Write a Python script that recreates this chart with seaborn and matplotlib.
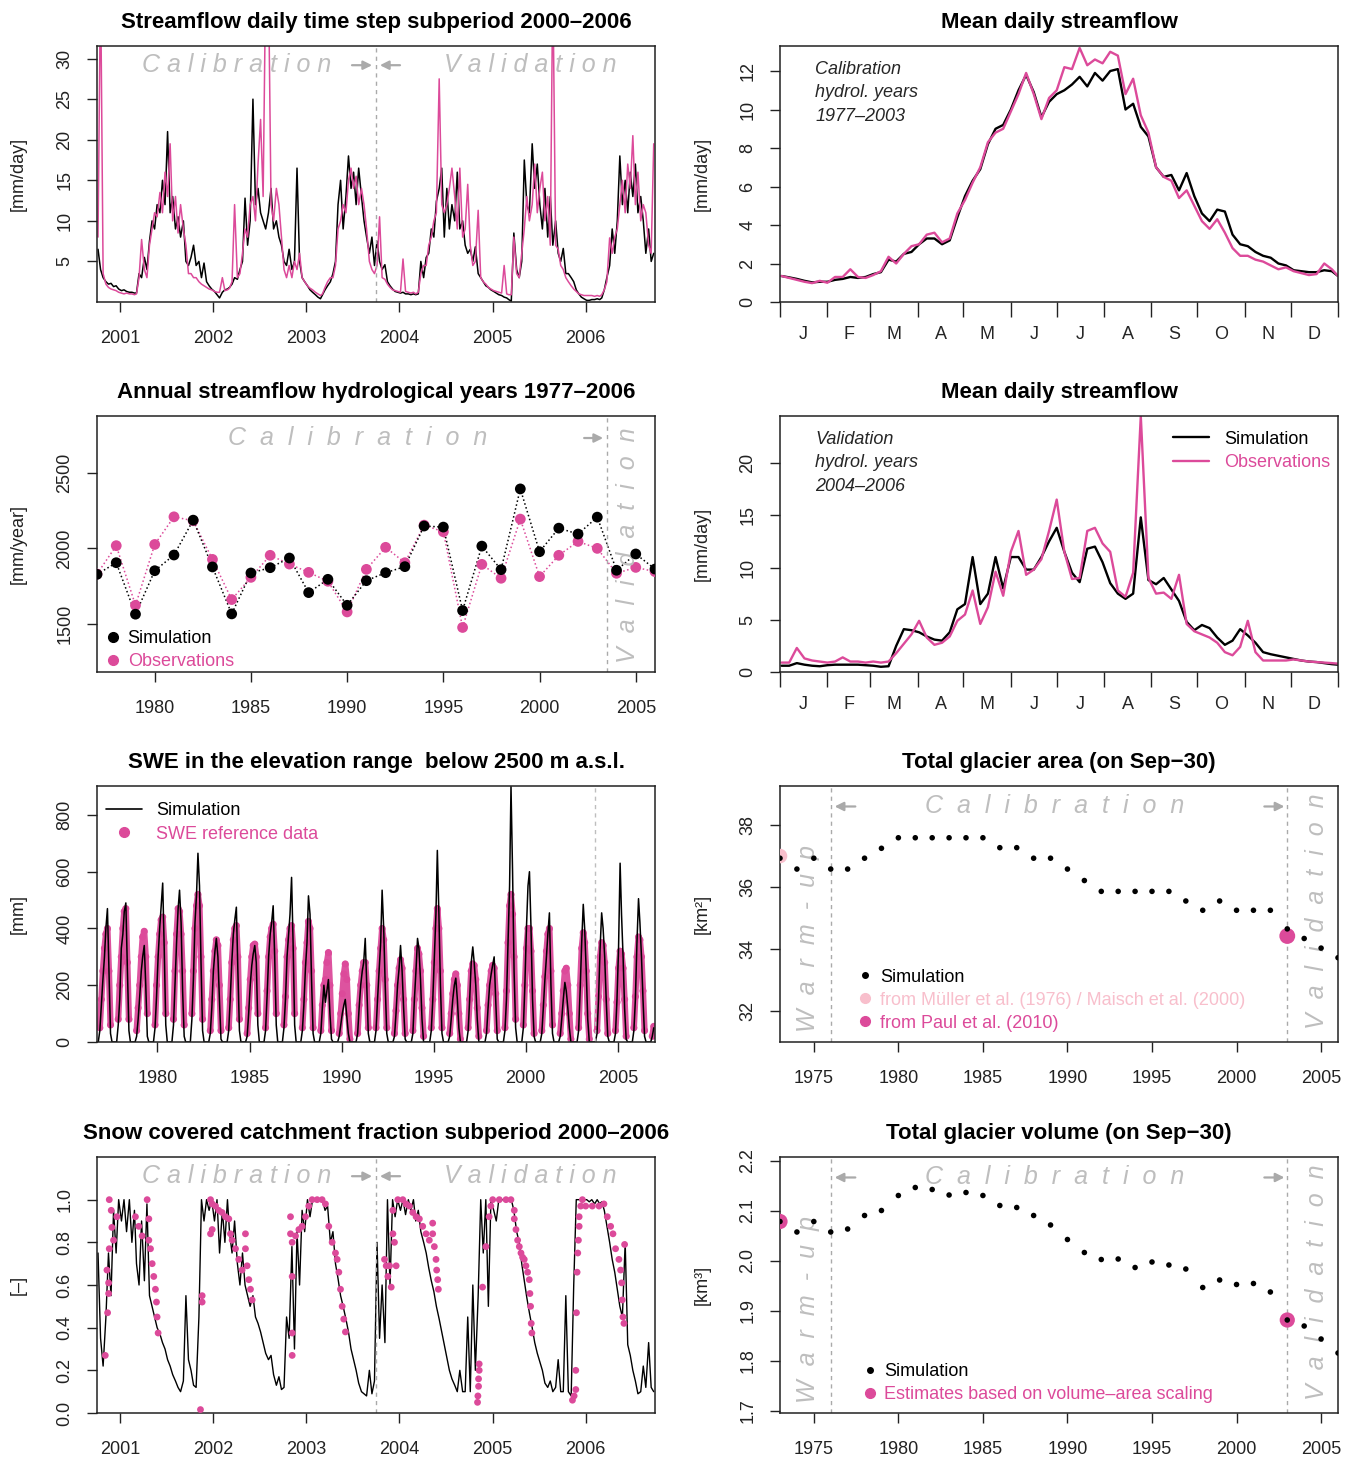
import numpy as np
import pandas as pd
import matplotlib
matplotlib.use("Agg")
import matplotlib.pyplot as plt
import seaborn as sns
from matplotlib.lines import Line2D

sns.set_style("ticks")
plt.rcParams['font.family'] = ['Liberation Sans', 'DejaVu Sans']
plt.rcParams['axes.titleweight'] = 'bold'

PINK = '#DC4A9A'
LPINK = '#F8BFCC'
GRAY = '#BEBEBE'
DGRAY = '#AAAAAA'
INK = '#222222'

# ---------------- Panel A: dekadal streamflow, hydrological years 2001-2006 [mm/day]
q_sim_hy2001 = [6.5,4,3,2.5,2.2,2.3,1.9,2.0,1.6,1.4,1.5,1.3,1.2,1.2,1.1,1.1,3.5,3,5.5,4,7.5,10,9,12,11,15,12,21,11,13,9,10.5,8,10,5,4.5]
q_obs_hy2001 = [8,40,3.5,2.2,1.8,1.6,1.5,1.4,1.2,1.1,1.0,1.1,1.0,1.0,0.9,1.0,3,7.7,4,3,7,9,11,10.5,13.5,11,16,13,19.5,10,13,8.5,12,9,7,3.5]
q_sim_hy2002 = [5.5,7,4.5,5,3,4.8,2.5,2,1.6,1.3,0.9,0.5,1.2,1.5,1.6,1.8,2.2,3,2.8,4,5,12.8,7,10,25,12,14,11,10,9,11,14,9,10,8,7]
q_obs_hy2002 = [3.5,3,3,2.5,2.2,2,1.8,1.6,1.5,1.3,1.2,1.2,3,1.4,1.5,1.7,2.5,12,3,3.5,6,9,8,12,13,10,17,22.5,13,40,40,12,10,14,12,8]
q_sim_hy2003 = [5,4.5,6.5,4,5,16.5,5,3,2.5,2,1.5,1.2,0.9,0.6,0.4,0.9,1.5,2,2.5,3.5,5,12,15,9,13,18,14,16,12,16.5,13,10,8,6,8,4.5]
q_obs_hy2003 = [4,3,4.5,3,5,4,6,3,2.5,2,1.7,1.5,1.2,1.0,0.8,1.0,1.8,2.5,3,3,4.5,9,10,12,11,15,16.5,14,15.5,12,14,12,9,5,4,3.5]
q_sim_hy2004 = [7.5,5,4,4.6,2.5,2,1.6,1.3,1.2,1.1,1.2,1.0,1.0,0.9,1.0,0.9,1.0,5,3,5.5,6,9,8,12.4,14,16.5,8,14,9,12,10,16,9,10,7,6]
q_obs_hy2004 = [4.5,10.5,3,2.8,2.2,1.8,1.5,1.4,1.3,1.2,5.3,1.3,1.2,1.1,1.2,1.0,1.2,3.5,4.5,4.5,7,8,10,11,27.5,12,11,12,14,16.5,13,9,16.5,8,9,14.5]
q_sim_hy2005 = [6.5,5,6.8,3.5,3,2.5,2,1.8,1.5,1.3,1.1,0.9,0.8,0.6,0.5,0.3,0.1,8.5,4,3,5,17.5,12,11,19.5,14,17,12,9,14,8,13,7,10,6,5]
q_obs_hy2005 = [7,4.5,5,11.3,3,2.5,2.2,1.8,1.6,1.4,1.3,1.2,1.1,4.5,1.0,0.9,0.9,8,3.5,3,6,9,13,10,12,17,11,14,16,10,13,7,40,7,6.5,4.5]
q_sim_hy2006 = [6.6,3.5,3.5,3,2.5,1.5,1.0,0.6,0.4,0.2,0.2,0.3,0.3,0.4,0.3,0.5,1.5,3,4.5,9,6,10,18,12,15,11,16,13,17,11,13,10,6,9,5,6]
q_obs_hy2006 = [4,3,2.5,2,1.6,1.3,1.0,0.9,0.8,0.8,0.8,0.8,0.7,0.8,0.7,0.9,1.5,2.5,7.9,6,8,9,12,15,11,17,14,20.5,12,16,10,12,11,7,6,19.5]

# ---------------- Panel B / D: mean daily streamflow [mm/day]
doy = list(range(1, 362, 5)) + [365]
cal_sim = [1.35,1.28,1.2,1.1,1.02,1.05,1.05,1.15,1.2,1.3,1.25,1.3,1.45,1.55,2.2,2.1,2.5,2.6,3.0,3.3,3.3,3.0,3.2,4.4,5.5,6.3,6.9,8.2,9.0,9.2,10.0,11.0,11.8,10.9,9.6,10.4,10.8,11.0,11.3,11.7,11.2,11.9,11.5,12.0,12.1,10.0,10.3,9.1,8.6,7.0,6.5,6.6,5.8,6.7,5.5,4.6,4.2,4.8,4.7,3.5,3.0,2.9,2.6,2.4,2.3,2.0,1.9,1.65,1.6,1.55,1.55,1.65,1.6,1.35]
cal_obs = [1.35,1.25,1.15,1.05,0.98,1.1,1.0,1.3,1.3,1.7,1.3,1.25,1.4,1.6,2.35,2.0,2.5,2.9,3.0,3.5,3.6,3.1,3.3,4.6,5.3,6.2,7.0,8.3,8.8,9.0,9.9,10.8,11.9,10.8,9.5,10.6,11.0,12.2,12.1,13.2,12.3,12.6,12.4,13.0,12.8,10.8,11.6,9.7,8.8,7.0,6.5,6.3,5.4,5.8,5.0,4.2,3.8,4.3,3.6,2.8,2.4,2.4,2.2,2.1,1.9,1.7,1.8,1.6,1.5,1.4,1.45,2.0,1.7,1.35]
val_sim = [0.6,0.6,0.85,0.7,0.6,0.55,0.65,0.7,0.7,0.7,0.7,0.65,0.6,0.5,0.55,2.5,4.1,4.0,3.8,3.4,3.1,3.0,3.8,6.0,6.5,11.0,6.5,7.5,11.0,8.0,11.0,11.0,9.8,9.8,11.0,12.5,13.8,11.5,9.5,8.6,11.8,12.0,10.5,8.5,7.5,7.0,7.5,14.8,8.8,8.4,9.0,7.9,6.8,4.8,4.0,4.5,4.2,3.3,2.6,3.0,4.1,3.5,2.8,1.9,1.7,1.55,1.4,1.25,1.1,1.0,0.95,0.85,0.75,0.7]
val_obs = [0.9,0.9,2.3,1.3,1.1,1.0,0.9,1.0,1.4,1.0,1.0,0.9,1.0,0.9,1.0,1.8,2.7,3.6,4.9,3.3,2.6,2.8,3.4,4.9,5.5,7.8,4.6,6.2,9.6,7.3,11.5,13.5,9.3,9.8,10.8,13.5,16.5,11.5,8.9,9.0,13.5,13.8,12.3,11.5,7.8,7.2,9.5,24.5,9.0,7.5,7.6,7.0,9.3,4.6,3.9,3.6,3.3,2.8,1.9,1.6,2.4,4.9,1.9,1.1,1.1,1.1,1.1,1.2,1.1,1.0,0.95,0.9,0.85,0.8]
month_letters = ['J', 'F', 'M', 'A', 'M', 'J', 'J', 'A', 'S', 'O', 'N', 'D']
month_days = [31, 28, 31, 30, 31, 30, 31, 31, 30, 31, 30, 31]

# ---------------- Panel C: annual streamflow [mm/year]
ann_years = list(range(1977, 2007))
ann_sim = [1828,1905,1564,1852,1956,2187,1877,1566,1837,1872,1936,1707,1795,1623,1786,1839,1879,2148,2141,1588,2015,1859,2394,1978,2134,2095,2207,1855,1963,1863]
ann_obs = [1830,2018,1623,2026,2209,2183,1927,1661,1808,1954,1896,1841,1782,1579,1861,2007,1905,2154,2110,1476,1894,1802,2194,1813,1954,2046,2000,1835,1874,1846]

# ---------------- Panel E: SWE below 2500 m, monthly (Oct..Sep per hydrological year) [mm]
swe_sim = {
 1977:[0,40,130,220,300,400,470,250,30,0,0,0], 1978:[0,60,150,330,380,460,490,260,40,0,0,0],
 1979:[0,20,80,160,250,300,340,200,20,0,0,0], 1980:[0,50,160,300,400,480,560,330,60,0,0,0],
 1981:[0,60,200,350,470,535,420,180,20,0,0,0], 1982:[0,80,220,420,520,665,550,280,40,0,0,0],
 1983:[0,30,120,250,320,365,300,150,10,0,0,0], 1984:[0,40,150,280,380,430,475,250,40,0,0,0],
 1985:[0,20,100,200,270,310,340,280,60,0,0,0], 1986:[0,40,160,300,380,420,480,300,60,0,0,0],
 1987:[0,50,150,300,380,450,580,350,60,0,0,0], 1988:[0,40,130,260,350,515,450,220,30,0,0,0],
 1989:[0,30,120,200,140,180,220,100,10,0,0,0], 1990:[0,20,60,100,130,150,90,30,0,0,0,0],
 1991:[0,30,120,200,250,280,365,200,30,0,0,0], 1992:[0,40,150,250,350,535,400,200,30,0,0,0],
 1993:[0,20,100,200,260,340,250,120,10,0,0,0], 1994:[0,30,150,250,365,330,220,80,0,0,0,0],
 1995:[0,40,150,300,450,675,450,200,30,0,0,0], 1996:[0,20,80,150,200,225,150,50,0,0,0,0],
 1997:[0,40,150,280,335,280,200,80,0,0,0,0], 1998:[0,30,120,200,240,270,300,150,10,0,0,0],
 1999:[0,40,150,350,550,900,600,250,50,0,0,0], 2000:[0,50,200,400,550,600,400,150,20,0,0,0],
 2001:[0,30,120,220,300,380,455,200,30,0,0,0], 2002:[0,20,80,150,210,180,120,50,0,0,0,0],
 2003:[0,40,180,350,485,400,250,80,0,0,0,0], 2004:[0,30,150,330,455,400,300,150,20,0,0,0],
 2005:[0,30,150,330,630,450,300,120,10,0,0,0], 2006:[0,40,150,350,505,420,300,150,20,0,0,0],
 2007:[0,20,50],
}
swe_ref = {
 1977:[0,50,150,250,330,380,400,250,60,0,0,0], 1978:[0,80,200,300,400,460,470,280,80,0,0,0],
 1979:[0,40,120,200,300,370,390,300,100,0,0,0], 1980:[0,60,200,300,380,430,440,350,100,0,0,0],
 1981:[0,80,250,380,470,460,380,250,60,0,0,0], 1982:[0,100,250,400,480,520,480,300,80,0,0,0],
 1983:[0,40,150,250,320,360,340,200,40,0,0,0], 1984:[0,50,150,280,360,400,410,300,80,0,0,0],
 1985:[0,30,120,220,300,340,345,300,100,0,0,0], 1986:[0,50,180,300,370,400,415,320,100,0,0,0],
 1987:[0,60,160,300,360,400,410,330,100,0,0,0], 1988:[0,50,150,280,350,425,400,250,50,0,0,0],
 1989:[0,40,130,200,220,280,315,200,40,0,0,0], 1990:[0,30,100,170,240,275,220,100,10,0,0,0],
 1991:[0,30,130,200,250,280,280,200,50,0,0,0], 1992:[0,50,150,250,330,400,360,220,50,0,0,0],
 1993:[0,30,110,200,260,290,260,150,30,0,0,0], 1994:[0,40,150,250,330,310,250,120,20,0,0,0],
 1995:[0,50,150,280,400,470,400,250,50,0,0,0], 1996:[0,30,100,170,220,240,200,100,10,0,0,0],
 1997:[0,50,150,250,275,270,220,120,20,0,0,0], 1998:[0,40,130,200,250,270,260,170,40,0,0,0],
 1999:[0,50,180,350,480,520,450,300,80,0,0,0], 2000:[0,60,200,330,400,400,320,180,30,0,0,0],
 2001:[0,40,130,230,320,380,400,250,60,0,0,0], 2002:[0,30,100,180,250,260,200,100,10,0,0,0],
 2003:[0,50,200,330,385,350,250,100,10,0,0,0], 2004:[0,40,160,300,350,340,280,150,30,0,0,0],
 2005:[0,40,140,260,320,310,260,150,20,0,0,0], 2006:[0,50,160,300,370,360,300,180,40,0,0,0],
 2007:[0,20,55],
}

# ---------------- Panel F: glacier area [km2]
gl_years = list(range(1973, 2007))
area_sim = [36.93,36.58,36.93,36.58,36.58,36.93,37.25,37.59,37.59,37.59,37.59,37.59,37.59,37.27,37.27,36.93,36.93,36.58,36.21,35.86,35.86,35.86,35.86,35.86,35.55,35.25,35.55,35.25,35.25,35.25,34.65,34.34,34.03,33.72]
area_muller = (1973, 37.0)
area_paul = (2003, 34.42)

# ---------------- Panel H: glacier volume [km3]
vol_sim = [2.078,2.057,2.078,2.057,2.063,2.090,2.100,2.130,2.146,2.142,2.131,2.136,2.130,2.110,2.106,2.090,2.071,2.042,2.016,2.002,2.003,1.986,1.997,1.991,1.983,1.946,1.961,1.952,1.954,1.937,1.881,1.869,1.843,1.815]
vol_est_years = [1973, 2003]
vol_est = [2.078, 1.881]

# ---------------- Panel G: snow covered fraction, dekadal simulation + observed points [-]
sc_sim_hy2001 = [0.75,0.35,0.22,0.45,0.75,0.55,0.95,0.75,1.0,0.9,1.0,0.85,1.0,0.8,0.95,0.7,0.6,0.9,0.62,0.98,0.55,0.5,0.45,0.4,0.37,0.33,0.3,0.25,0.22,0.18,0.15,0.12,0.1,0.15,0.55,0.25]
sc_sim_hy2002 = [0.2,0.13,0.12,0.45,1.0,0.9,1.0,0.95,1.0,0.9,1.0,0.75,0.95,0.8,1.0,0.85,0.75,0.9,0.7,0.6,0.75,0.6,0.55,0.5,0.55,0.45,0.42,0.38,0.33,0.28,0.25,0.27,0.18,0.13,0.17,0.11]
sc_sim_hy2003 = [0.12,0.45,0.35,0.78,0.3,0.85,0.6,0.95,0.85,1.0,0.92,1.0,1.0,1.0,1.0,1.0,0.95,0.97,0.8,0.85,0.7,0.63,0.55,0.5,0.44,0.38,0.3,0.25,0.2,0.14,0.1,0.09,0.08,0.2,0.09,0.15]
sc_sim_hy2004 = [0.8,0.35,0.6,0.33,1.0,0.6,1.0,0.92,1.0,0.95,1.0,0.93,1.0,0.95,1.0,0.9,0.95,0.85,0.8,0.75,0.68,0.62,0.57,0.5,0.44,0.38,0.32,0.26,0.2,0.16,0.13,0.1,0.2,0.1,0.1,0.45]
sc_sim_hy2005 = [0.1,0.6,0.2,0.55,1.0,0.75,1.0,0.5,1.0,0.95,0.9,1.0,1.0,1.0,1.0,1.0,1.0,0.95,0.85,0.8,0.7,0.62,0.54,0.47,0.4,0.33,0.28,0.24,0.2,0.14,0.12,0.15,0.1,0.12,0.25,0.1]
sc_sim_hy2006 = [0.1,0.55,0.1,0.08,0.6,1.0,1.0,1.0,1.0,1.0,0.99,1.0,0.98,1.0,0.98,0.99,0.95,0.88,0.8,0.72,0.66,0.58,0.5,0.45,0.8,0.32,0.27,0.2,0.15,0.09,0.1,0.22,0.12,0.33,0.12,0.1]
sc_obs_time = [2000.839,2000.864,2000.875,2000.875,2000.857,2000.882,2000.882,2000.903,2000.910,2000.928,2000.964,
  2001.161,2001.197,2001.233,2001.287,2001.305,2001.305,2001.323,2001.341,2001.358,2001.376,2001.387,2001.394,2001.405,
  2001.860,2001.878,2001.878,2001.968,2001.986,2001.986,2001.968,2002.022,2002.057,2002.093,2002.129,2002.165,2002.183,
  2002.201,2002.237,2002.272,2002.308,2002.344,2002.344,2002.362,2002.380,2002.398,2002.416,
  2002.828,2002.828,2002.846,2002.846,2002.846,2002.846,2002.882,2002.918,2002.953,2002.989,2003.025,2003.061,2003.115,
  2003.168,2003.204,2003.240,2003.276,2003.312,2003.330,2003.348,2003.366,2003.384,2003.401,2003.419,
  2003.839,2003.857,2003.875,2003.893,2003.911,2003.929,2003.946,2003.964,2003.929,2003.982,2004.036,2004.071,2004.107,
  2004.143,2004.179,2004.214,2004.250,2004.286,2004.321,2004.357,2004.357,2004.375,2004.393,2004.400,2004.411,2004.418,
  2004.857,2004.857,2004.850,2004.850,2004.843,2004.839,2004.893,2004.929,2004.964,2004.982,2005.000,2005.071,2005.143,
  2005.196,2005.232,2005.232,2005.250,2005.268,2005.286,2005.304,2005.321,2005.339,2005.357,2005.375,2005.393,2005.400,
  2005.407,2005.414,2005.421,
  2005.857,2005.875,2005.893,2005.893,2005.900,2005.907,2005.914,2005.921,2005.929,2005.929,2005.946,2005.964,2006.000,
  2006.071,2006.143,2006.196,2006.232,2006.268,2006.293,2006.321,2006.357,2006.375,2006.386,2006.393,2006.400,2006.411,2006.418]
sc_obs_val = [0.27,0.47,0.56,0.61,0.67,0.77,1.0,0.95,0.87,0.81,0.92,
  0.92,0.875,0.83,1.0,0.91,0.81,0.77,0.70,0.64,0.58,0.52,0.45,0.375,
  0.016,0.55,0.52,1.0,0.98,0.86,0.84,0.97,0.95,0.94,0.92,0.91,0.84,
  0.81,0.77,0.72,0.67,0.84,0.77,0.69,0.625,0.58,0.53,
  0.92,0.84,0.80,0.64,0.375,0.27,0.83,0.86,0.875,0.92,0.97,1.0,1.0,
  1.0,0.98,0.875,0.80,0.75,0.72,0.66,0.58,0.50,0.44,0.38,
  0.72,0.69,0.64,0.69,0.59,0.84,0.80,0.69,0.95,1.0,1.0,0.98,0.97,
  0.94,0.92,0.91,0.875,0.84,0.81,0.89,0.84,0.78,0.72,0.67,0.625,0.58,
  0.23,0.20,0.16,0.125,0.08,0.05,0.59,0.78,0.92,0.97,1.0,1.0,1.0,
  1.0,0.95,0.91,0.86,0.81,0.78,0.75,0.73,0.72,0.69,0.66,0.625,0.56,
  0.50,0.42,0.375,
  0.06,0.08,0.11,0.20,0.47,0.66,0.75,0.81,0.875,0.92,0.97,1.0,0.97,
  0.97,0.97,0.98,0.92,0.875,0.84,0.77,0.72,0.67,0.61,0.53,0.45,0.42,0.79]

# ====================================================================== helpers
def dekad_dates(first_hy, n_years):
    months = pd.date_range(f'{first_hy - 1}-10-01', periods=12 * n_years, freq='MS')
    return [m + pd.Timedelta(days=d) for m in months for d in (4, 14, 24)]

def dec_to_ts(y):
    yi = int(np.floor(y))
    return pd.Timestamp(yi, 1, 1) + pd.Timedelta(days=(y - yi) * 365.25)

W, H = 1354, 1458
fig = plt.figure(figsize=(W / 100, H / 100), dpi=100)

def add_ax(left, top, w=558, h=256):
    return fig.add_axes([left / W, 1 - (top + h) / H, w / W, h / H])

def rstyle(ax, title, ylabel):
    for s in ax.spines.values():
        s.set_visible(True)
        s.set_linewidth(1.1)
        s.set_color(INK)
    ax.tick_params(axis='both', direction='out', length=7, width=1.0, color=INK,
                   labelsize=13, labelcolor=INK)
    ax.tick_params(axis='x', pad=13)
    ax.tick_params(axis='y', pad=10)
    ax.set_title(title, fontsize=16, fontweight='bold', pad=13, color='black')
    ax.set_ylabel(ylabel, fontsize=13, color=INK)
    ax.yaxis.set_label_coords(-0.125, 0.5)
    ax.set_xlabel('')

def yrot(ax):
    plt.setp(ax.get_yticklabels(), rotation=90, va='center')

def gtext(ax, x, y, s, rot=0, size=18):
    ax.text(x, y, s, transform=ax.transAxes, ha='center', va='center', fontsize=size,
            style='italic', color=GRAY, rotation=rot)

def garrow(ax, x0, x1, y):
    ax.annotate('', xy=(x1, y), xytext=(x0, y), xycoords='axes fraction',
                arrowprops=dict(arrowstyle='-|>', color=DGRAY, lw=1.6, mutation_scale=13,
                                shrinkA=0, shrinkB=0))

axA = add_ax(97, 46)
axB = add_ax(780, 46)
axC = add_ax(97, 416)
axD = add_ax(780, 416)
axE = add_ax(97, 786)
axF = add_ax(780, 786)
axG = add_ax(97, 1157)
axH = add_ax(780, 1157)

x_lo = pd.Timestamp('2000-10-01')
x_hi = pd.Timestamp('2006-09-30')
split = pd.Timestamp('2003-10-01')
yr_ticks = [pd.Timestamp(f'{y}-01-01') for y in range(2001, 2007)]

# ---------------------------------------------------------------- Panel A
dfA = pd.DataFrame({
    'date': dekad_dates(2001, 6),
    'sim': q_sim_hy2001 + q_sim_hy2002 + q_sim_hy2003 + q_sim_hy2004 + q_sim_hy2005 + q_sim_hy2006,
    'obs': q_obs_hy2001 + q_obs_hy2002 + q_obs_hy2003 + q_obs_hy2004 + q_obs_hy2005 + q_obs_hy2006,
})
sns.lineplot(data=dfA, x='date', y='sim', ax=axA, color='black', lw=1.1, estimator=None)
sns.lineplot(data=dfA, x='date', y='obs', ax=axA, color=PINK, lw=1.1, estimator=None)
axA.axvline(split, color=DGRAY, ls=(0, (3, 3)), lw=1)
axA.set_xlim(x_lo, x_hi)
axA.set_ylim(0, 31.55)
axA.set_yticks([5, 10, 15, 20, 25, 30])
axA.set_xticks(yr_ticks)
axA.set_xticklabels([str(y) for y in range(2001, 2007)])
rstyle(axA, 'Streamflow daily time step subperiod 2000–2006', '[mm/day]')
yrot(axA)
gtext(axA, 0.251, 0.925, 'C a l i b r a t i o n')
gtext(axA, 0.776, 0.925, 'V a l i d a t i o n')
garrow(axA, 0.457, 0.493, 0.925)
garrow(axA, 0.543, 0.507, 0.925)

# ---------------------------------------------------------------- Panel B / D
month_edges = np.concatenate([[0], np.cumsum(month_days)])
month_mid = (month_edges[:-1] + month_edges[1:]) / 2

def mean_daily(ax, sim, obs, label_text, legend):
    df = pd.DataFrame({'doy': doy, 'sim': sim, 'obs': obs})
    sns.lineplot(data=df, x='doy', y='sim', ax=ax, color='black', lw=1.7, estimator=None)
    sns.lineplot(data=df, x='doy', y='obs', ax=ax, color=PINK, lw=1.7, estimator=None)
    ax.set_xlim(0, 365)
    ax.set_xticks(month_edges)
    ax.set_xticklabels([])
    ax.set_xticks(month_mid, minor=True)
    ax.set_xticklabels(month_letters, minor=True)
    rstyle(ax, 'Mean daily streamflow', '[mm/day]')
    ax.tick_params(axis='x', which='minor', length=0, pad=17, labelsize=13)
    ax.tick_params(axis='x', which='major', length=11)
    ax.text(0.063, 0.94, label_text, transform=ax.transAxes, ha='left', va='top',
            fontsize=13, style='italic', linespacing=1.47)
    if legend:
        h = [Line2D([0], [0], color='black', lw=1.7), Line2D([0], [0], color=PINK, lw=1.7)]
        ax.legend(h, ['Simulation', 'Observations'], loc='upper right', frameon=False,
                  fontsize=13, labelcolor=['black', PINK], handlelength=2.0,
                  handletextpad=0.8, labelspacing=0.37, borderaxespad=0.2,
                  bbox_to_anchor=(1.005, 0.985))

mean_daily(axB, cal_sim, cal_obs, 'Calibration\nhydrol. years\n1977–2003', False)
axB.set_ylim(0, 13.3)
axB.set_yticks([0, 2, 4, 6, 8, 10, 12])
yrot(axB)
mean_daily(axD, val_sim, val_obs, 'Validation\nhydrol. years\n2004–2006', True)
axD.set_ylim(0, 24.5)
axD.set_yticks([0, 5, 10, 15, 20])
yrot(axD)

# ---------------------------------------------------------------- Panel C
dfC = pd.DataFrame({'year': ann_years, 'sim': ann_sim, 'obs': ann_obs})
sns.lineplot(data=dfC, x='year', y='obs', ax=axC, color=PINK, lw=1.1, ls=':', estimator=None)
sns.lineplot(data=dfC, x='year', y='sim', ax=axC, color='black', lw=1.1, ls=':', estimator=None)
sns.scatterplot(data=dfC, x='year', y='obs', ax=axC, color=PINK, s=60, edgecolor='none', zorder=3)
sns.scatterplot(data=dfC, x='year', y='sim', ax=axC, color='black', s=60, edgecolor='none', zorder=4)
axC.axvline(2003.5, color=DGRAY, ls=(0, (3, 3)), lw=1)
axC.set_xlim(1977, 2006)
axC.set_ylim(1181, 2877)
axC.set_yticks([1500, 2000, 2500])
axC.set_xticks([1980, 1985, 1990, 1995, 2000, 2005])
rstyle(axC, 'Annual streamflow hydrological years 1977–2006', '[mm/year]')
yrot(axC)
gtext(axC, 0.467, 0.914, 'C  a  l  i  b  r  a  t  i  o  n')
gtext(axC, 0.952, 0.495, 'V  a  l  i  d  a  t  i  o  n', rot=90)
garrow(axC, 0.873, 0.907, 0.914)
hC = [Line2D([0], [0], marker='o', ls='none', color='black', ms=7),
      Line2D([0], [0], marker='o', ls='none', color=PINK, ms=7)]
axC.legend(hC, ['Simulation', 'Observations'], loc='lower left', frameon=False, fontsize=13,
           labelcolor=['black', PINK], handlelength=1.0, handletextpad=0.3,
           labelspacing=0.33, borderaxespad=0.0, bbox_to_anchor=(0.0, -0.022))

# ---------------------------------------------------------------- Panel E
swe_dates = pd.date_range('1976-10-01', periods=363, freq='MS') + pd.Timedelta(days=14)
sim_vals, ref_vals, seasons = [], [], []
for hy in range(1977, 2008):
    sim_vals += swe_sim[hy]
    ref_vals += swe_ref[hy]
    seasons += [hy] * len(swe_sim[hy])
dfE = pd.DataFrame({'date': swe_dates, 'sim': sim_vals, 'ref': ref_vals, 'season': seasons})
dfEr = dfE[dfE['ref'] > 0]
sns.lineplot(data=dfEr, x='date', y='ref', units='season', estimator=None, ax=axE,
             color=PINK, lw=4.5, alpha=0.95)
sns.scatterplot(data=dfEr, x='date', y='ref', ax=axE, color=PINK, s=26, edgecolor='none')
sns.lineplot(data=dfE, x='date', y='sim', ax=axE, color='black', lw=1.1, estimator=None)
axE.axvline(pd.Timestamp('2003-10-01'), color=GRAY, ls=(0, (3, 3)), lw=1)
axE.set_xlim(pd.Timestamp('1976-09-20'), pd.Timestamp('2007-01-08'))
axE.set_ylim(0, 902)
axE.set_yticks([0, 200, 400, 600, 800])
axE.set_xticks([pd.Timestamp(f'{y}-01-01') for y in range(1980, 2006, 5)])
axE.set_xticklabels([str(y) for y in range(1980, 2006, 5)])
rstyle(axE, 'SWE in the elevation range  below 2500 m a.s.l.', '[mm]')
yrot(axE)
hE = [Line2D([0], [0], color='black', lw=1.2),
      Line2D([0], [0], marker='o', ls='none', color=PINK, ms=7)]
axE.legend(hE, ['Simulation', 'SWE reference data'], loc='upper left', frameon=False,
           fontsize=13, labelcolor=['black', PINK], handlelength=2.0, handletextpad=0.75,
           labelspacing=0.37, borderaxespad=0.2, bbox_to_anchor=(-0.003, 0.98))

# ---------------------------------------------------------------- Panel F / H
def glacier(ax, sim, title, ylabel):
    df = pd.DataFrame({'year': gl_years, 'sim': sim})
    sns.scatterplot(data=df, x='year', y='sim', ax=ax, color='black', s=16, edgecolor='none', zorder=4)
    ax.axvline(1976, color=DGRAY, ls=(0, (3, 3)), lw=1)
    ax.axvline(2003, color=DGRAY, ls=(0, (3, 3)), lw=1)
    ax.set_xlim(1973, 2006)
    ax.set_xticks([1975, 1980, 1985, 1990, 1995, 2000, 2005])
    rstyle(ax, title, ylabel)
    gtext(ax, 0.05, 0.405, 'W  a  r  m  -  u  p', rot=90)
    gtext(ax, 0.493, 0.92, 'C  a  l  i  b  r  a  t  i  o  n')
    gtext(ax, 0.962, 0.51, 'V  a  l  i  d  a  t  i  o  n', rot=90)
    garrow(ax, 0.135, 0.098, 0.92)
    garrow(ax, 0.868, 0.904, 0.92)

dfFm = pd.DataFrame({'year': [area_muller[0]], 'a': [area_muller[1]]})
dfFp = pd.DataFrame({'year': [area_paul[0]], 'a': [area_paul[1]]})
sns.scatterplot(data=dfFm, x='year', y='a', ax=axF, color=LPINK, s=110, edgecolor='none', zorder=3)
sns.scatterplot(data=dfFp, x='year', y='a', ax=axF, color=PINK, s=130, edgecolor='none', zorder=3)
glacier(axF, area_sim, 'Total glacier area (on Sep−30)', '[km²]')
axF.set_ylim(31.0, 39.26)
axF.set_yticks([32, 34, 36, 38])
yrot(axF)
hF = [Line2D([0], [0], marker='o', ls='none', color='black', ms=4),
      Line2D([0], [0], marker='o', ls='none', color=LPINK, ms=7),
      Line2D([0], [0], marker='o', ls='none', color=PINK, ms=7)]
axF.legend(hF, ['Simulation', 'from Müller et al. (1976) / Maisch et al. (2000)', 'from Paul et al. (2010)'],
           loc='lower left', frameon=False, fontsize=13, labelcolor=['black', LPINK, PINK],
           handlelength=1.0, handletextpad=0.3, labelspacing=0.33, borderaxespad=0.0,
           bbox_to_anchor=(0.124, 0.012))

dfHe = pd.DataFrame({'year': vol_est_years, 'v': vol_est})
sns.scatterplot(data=dfHe, x='year', y='v', ax=axH, color=PINK, s=120, edgecolor='none', zorder=3)
glacier(axH, vol_sim, 'Total glacier volume (on Sep−30)', '[km³]')
axH.set_ylim(1.695, 2.207)
axH.set_yticks([1.7, 1.8, 1.9, 2.0, 2.1, 2.2])
axH.set_yticklabels(['1.7', '1.8', '1.9', '2.0', '2.1', '2.2'])
yrot(axH)
hH = [Line2D([0], [0], marker='o', ls='none', color='black', ms=4),
      Line2D([0], [0], marker='o', ls='none', color=PINK, ms=7)]
axH.legend(hH, ['Simulation', 'Estimates based on volume–area scaling'], loc='lower left',
           frameon=False, fontsize=13, labelcolor=['black', PINK], handlelength=1.0,
           handletextpad=0.3, labelspacing=0.33, borderaxespad=0.0, bbox_to_anchor=(0.132, 0.01))

# ---------------------------------------------------------------- Panel G
dfG = pd.DataFrame({
    'date': dekad_dates(2001, 6),
    'sim': sc_sim_hy2001 + sc_sim_hy2002 + sc_sim_hy2003 + sc_sim_hy2004 + sc_sim_hy2005 + sc_sim_hy2006,
})
dfGo = pd.DataFrame({'date': [dec_to_ts(t) for t in sc_obs_time], 'obs': sc_obs_val})
sns.lineplot(data=dfG, x='date', y='sim', ax=axG, color='black', lw=1.0, estimator=None)
sns.scatterplot(data=dfGo, x='date', y='obs', ax=axG, color=PINK, s=24, edgecolor='none', zorder=3)
axG.axvline(split, color=DGRAY, ls=(0, (3, 3)), lw=1)
axG.set_xlim(x_lo, x_hi)
axG.set_ylim(0, 1.2)
axG.set_yticks([0, 0.2, 0.4, 0.6, 0.8, 1.0])
axG.set_yticklabels(['0.0', '0.2', '0.4', '0.6', '0.8', '1.0'])
axG.set_xticks(yr_ticks)
axG.set_xticklabels([str(y) for y in range(2001, 2007)])
rstyle(axG, 'Snow covered catchment fraction subperiod 2000–2006', '[–]')
yrot(axG)
gtext(axG, 0.251, 0.925, 'C a l i b r a t i o n')
gtext(axG, 0.776, 0.925, 'V a l i d a t i o n')
garrow(axG, 0.457, 0.493, 0.925)
garrow(axG, 0.543, 0.507, 0.925)

fig.savefig('out.png', dpi=100)
